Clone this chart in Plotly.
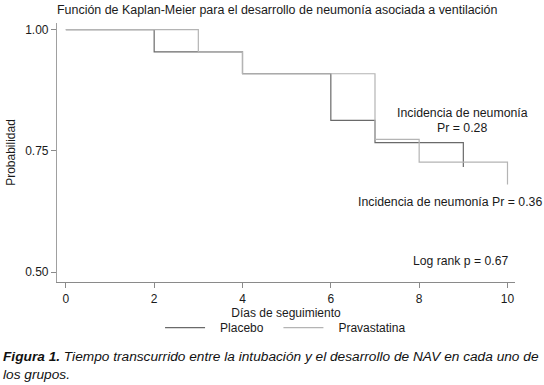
import plotly.graph_objects as go

# Kaplan-Meier step data
placebo_days = [0, 2, 4, 6, 7, 9]
placebo_surv = [1.00, 0.954, 0.909, 0.813, 0.767, 0.717]
prava_days = [0, 3, 4, 7, 8, 10]
prava_surv = [1.00, 0.954, 0.909, 0.774, 0.727, 0.681]

x_ticks = [0, 2, 4, 6, 8, 10]
y_ticks = [0.50, 0.75, 1.00]
y_ticklabels = ["0.50", "0.75", "1.00"]

FONT = "Liberation Sans, Arial, Helvetica, sans-serif"
TXT = "#1a1a1a"
SP = "\u00a0"

fig = go.Figure()
fig.add_trace(go.Scatter(x=placebo_days, y=placebo_surv, mode="lines",
                         name=SP * 3 + "Placebo" + SP * 3,
                         line=dict(shape="hv", color="#6a6a6a", width=1.2)))
fig.add_trace(go.Scatter(x=prava_days, y=prava_surv, mode="lines",
                         name=SP * 3 + "Pravastatina",
                         line=dict(shape="hv", color="#b4b4b4", width=1.2)))

fig.update_layout(
    width=544, height=385, autosize=False,
    margin=dict(l=57, r=29, t=23, b=103),
    paper_bgcolor="white", plot_bgcolor="white",
    font=dict(family=FONT, size=12, color=TXT),
    showlegend=True,
    legend=dict(orientation="h", x=0.225, xanchor="left", y=-0.12, yanchor="top",
                font=dict(size=12, color=TXT), itemwidth=40, bgcolor="rgba(0,0,0,0)"),
    xaxis=dict(range=[-0.2, 10.17], tickvals=x_ticks, showgrid=False, zeroline=False,
               showline=True, linecolor="#8a8a8a", linewidth=1.2,
               ticks="outside", ticklen=5, tickcolor="#8a8a8a",
               tickfont=dict(size=12, color=TXT),
               title=dict(text="Días de seguimiento", font=dict(size=12, color=TXT), standoff=4)),
    yaxis=dict(range=[0.480, 1.0136], tickvals=y_ticks, ticktext=y_ticklabels,
               showgrid=False, zeroline=False,
               showline=True, linecolor="#a0a0a0", linewidth=1.2,
               ticks="outside", ticklen=5, tickcolor="#8a8a8a",
               tickfont=dict(size=12, color=TXT),
               title=dict(text="Probabilidad", font=dict(size=12, color=TXT), standoff=6)),
)

fig.add_annotation(xref="paper", yref="paper", x=-0.004, y=1.049, xanchor="left", yanchor="middle",
                   showarrow=False, font=dict(size=12.45, color=TXT),
                   text="Función de Kaplan-Meier para el desarrollo de neumonía asociada a ventilación")
fig.add_annotation(xref="x", yref="y", x=8.97, y=0.8276, xanchor="center", yanchor="middle",
                   showarrow=False, font=dict(size=12.3, color=TXT),
                   text="Incidencia de neumonía")
fig.add_annotation(xref="x", yref="y", x=8.98, y=0.7967, xanchor="center", yanchor="middle",
                   showarrow=False, font=dict(size=12.3, color=TXT),
                   text="Pr = 0.28")
fig.add_annotation(xref="x", yref="y", x=8.70, y=0.645, xanchor="center", yanchor="middle",
                   showarrow=False, font=dict(size=12.3, color=TXT),
                   text="Incidencia de neumonía Pr = 0.36")
fig.add_annotation(xref="x", yref="y", x=10.06, y=0.523, xanchor="right", yanchor="middle",
                   showarrow=False, font=dict(size=12.2, color=TXT),
                   text="Log rank p = 0.67")
fig.add_annotation(xref="paper", yref="paper", x=-0.122, y=-0.25, xanchor="left", yanchor="top",
                   showarrow=False, align="left", font=dict(size=13.7, color="#111"),
                   text="<b><i>Figura 1.</i></b><i> Tiempo transcurrido entre la intubación y el desarrollo de NAV en cada uno de<br>los grupos.</i>")

fig.write_html("out.html", config={"displayModeBar": False},
               post_script="document.body.style.margin='0';document.body.style.overflow='hidden';")
